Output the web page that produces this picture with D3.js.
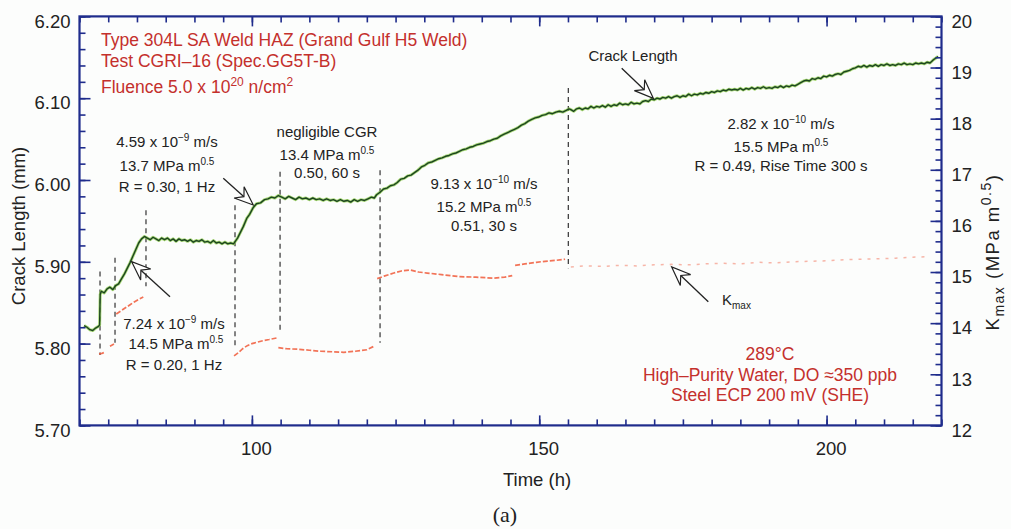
<!DOCTYPE html>
<html>
<head>
<meta charset="utf-8">
<script src="https://cdn.jsdelivr.net/npm/d3@7"></script>
<style>
  body { margin: 0; background: #fcfdfc; }
  svg { display: block; }
</style>
</head>
<body>
<svg id="chart" width="1011" height="529"></svg>
<script>
// ---------- data ----------
// crack length (mm) vs time (h)
const crackLength = [
  [70.8,5.822],[71.3,5.820],[71.8,5.817],[72.3,5.816],[72.8,5.819],[73.3,5.821],[73.5,5.823],
  [73.6,5.860],[73.8,5.864],[74.3,5.862],[74.8,5.867],[75.3,5.869],[75.8,5.866],[76.3,5.871],[76.8,5.873],
  [77.3,5.879],[77.8,5.885],[78.3,5.892],[78.8,5.899],[79.3,5.907],[79.8,5.915],[80.3,5.923],[80.8,5.928],[81.3,5.931],
  [81.8,5.929],[82.3,5.927],[82.8,5.930],[83.3,5.928],[83.8,5.926],[84.3,5.929],[84.8,5.927],[85.3,5.929],
  [85.8,5.926],[86.3,5.928],[86.8,5.925],[87.3,5.928],[87.8,5.926],[88.3,5.927],[88.8,5.925],[89.3,5.927],
  [89.8,5.924],[90.3,5.926],[90.8,5.925],[91.3,5.927],[91.8,5.924],[92.3,5.925],[92.8,5.923],[93.3,5.926],
  [93.8,5.923],[94.3,5.924],[94.8,5.922],[95.3,5.924],[95.8,5.922],[96.3,5.923],[96.8,5.922],
  [97.5,5.929],[98.0,5.936],[98.5,5.943],[99.1,5.953],[99.6,5.958],[100.2,5.966],[100.8,5.971],[101.5,5.972],[102.2,5.976],
  [102.8,5.977],[103.4,5.979],[104.0,5.978],[104.6,5.981],[105.2,5.979],[105.8,5.977],[106.4,5.980],[107.0,5.978],
  [107.6,5.976],[108.2,5.979],[108.8,5.977],[109.4,5.978],[110.0,5.976],[110.6,5.978],[111.2,5.976],[111.8,5.977],
  [112.4,5.975],[113.0,5.977],[113.6,5.975],[114.2,5.976],[114.8,5.974],[115.4,5.976],[116.0,5.974],[116.6,5.975],
  [117.2,5.973],[117.8,5.976],[118.4,5.974],[119.0,5.976],[119.6,5.975],[120.2,5.977],[120.8,5.979],[121.3,5.978],[121.7,5.982],
  [122.3,5.985],[122.9,5.989],[123.5,5.990],[124.1,5.993],[124.7,5.994],[125.3,5.997],[125.9,6.001],[126.5,6.002],
  [127.1,6.005],[127.7,6.006],[128.3,6.009],[128.9,6.012],[129.5,6.016],[130.1,6.018],[130.7,6.021],[131.3,6.022],
  [131.9,6.024],[132.5,6.026],[133.1,6.027],[133.7,6.029],[134.3,6.030],[134.9,6.032],[135.5,6.033],[136.1,6.035],
  [136.7,6.037],[137.3,6.038],[137.9,6.040],[138.5,6.041],[139.1,6.043],[139.7,6.044],[140.3,6.045],[140.9,6.047],
  [141.5,6.048],[142.1,6.050],[142.7,6.051],[143.3,6.054],[143.9,6.056],[144.5,6.058],[145.1,6.060],[145.7,6.062],
  [146.3,6.064],[146.9,6.067],[147.5,6.069],[148.1,6.072],[148.7,6.074],[149.3,6.076],[149.9,6.077],[150.5,6.079],
  [151.1,6.080],[151.7,6.082],[152.3,6.081],[152.9,6.083],[153.5,6.084],[154.1,6.083],[154.7,6.085],[155.2,6.087],
  [155.5,6.086],[156.0,6.084],[156.5,6.087],[157.0,6.088],[157.5,6.086],[158.0,6.088],[158.5,6.087],[159.0,6.090],
  [159.5,6.088],[160.0,6.090],[160.5,6.089],[161.0,6.091],[161.5,6.089],[162.0,6.092],[162.5,6.090],[163.0,6.092],
  [163.5,6.091],[164.0,6.094],[164.5,6.092],[165.0,6.093],[165.5,6.092],[166.0,6.095],[166.5,6.093],[167.0,6.094],
  [167.5,6.093],[168.0,6.096],[168.5,6.097],[169.0,6.096],[169.5,6.099],[170.0,6.098],[170.5,6.100],[171.0,6.099],
  [171.5,6.101],[172.0,6.100],[172.5,6.102],[173.0,6.100],[173.5,6.102],[174.0,6.103],[174.5,6.101],[175.0,6.103],
  [175.5,6.102],[176.0,6.105],[176.5,6.103],[177.0,6.105],[177.5,6.104],[178.0,6.106],[178.5,6.105],[179.0,6.107],
  [179.5,6.106],[180.0,6.108],[180.5,6.107],[181.0,6.109],[181.5,6.108],[182.0,6.110],[182.5,6.109],[183.0,6.111],
  [183.5,6.110],[184.0,6.111],[184.5,6.110],[185.0,6.112],[185.5,6.110],[186.0,6.112],[186.5,6.111],[187.0,6.113],
  [187.5,6.111],[188.0,6.113],[188.5,6.112],[189.0,6.114],[189.5,6.112],[190.0,6.113],[190.5,6.112],[191.0,6.114],
  [191.5,6.113],[192.0,6.115],[192.5,6.113],[193.0,6.115],[193.5,6.114],[194.0,6.116],[194.5,6.115],[195.0,6.117],
  [195.5,6.119],[196.0,6.121],[196.5,6.122],[197.0,6.121],[197.5,6.124],[198.0,6.123],[198.5,6.125],[199.0,6.124],
  [199.5,6.127],[200.0,6.126],[200.5,6.128],[201.0,6.127],[201.5,6.129],[202.0,6.130],[202.5,6.129],[203.0,6.132],
  [203.5,6.133],[204.0,6.134],[204.5,6.136],[205.0,6.137],[205.5,6.139],[206.0,6.138],[206.5,6.140],[207.0,6.138],
  [207.5,6.140],[208.0,6.139],[208.5,6.141],[209.0,6.139],[209.5,6.141],[210.0,6.140],[210.5,6.142],[211.0,6.140],
  [211.5,6.141],[212.0,6.140],[212.5,6.142],[213.0,6.141],[213.5,6.143],[214.0,6.141],[214.5,6.142],[215.0,6.141],
  [215.5,6.143],[216.0,6.142],[216.5,6.143],[217.0,6.142],[217.5,6.144],[218.0,6.143],[218.6,6.147],[219.4,6.151]
];

// Kmax (MPa m^0.5) vs time (h); null marks a break between loading steps
const kmax = [
  [73.4,13.40],[73.9,13.41],[74.4,13.43],null,
  [75.3,13.55],[76.0,13.59],null,
  [76.4,14.18],[77.2,14.24],[78.0,14.30],[78.8,14.36],[79.6,14.42],[80.4,14.47],[81.1,14.51],null,
  [96.9,13.36],[97.6,13.42],[98.4,13.50],[99.2,13.56],[100.0,13.60],[101.0,13.63],[102.0,13.66],[103.0,13.68],[104.3,13.71],null,
  [104.6,13.52],[106,13.50],[108,13.49],[110,13.47],[112,13.45],[114,13.44],[116,13.43],[118,13.45],[120,13.48],[121.3,13.55],null,
  [121.8,14.87],[123,14.92],[124.7,14.98],[126,15.02],[127.6,15.04],[129,15.00],[130.5,14.98],[133,14.95],[136,14.91],
  [139,14.90],[142,14.88],[144,14.90],[145.3,14.93],null,
  [145.8,15.13],[147.5,15.16],[149.5,15.19],[151,15.21],[153,15.23],[154.5,15.25],null,
  [155.5,15.10],[158,15.12],[161,15.11],[164,15.13],[167,15.12],[170,15.14],[173,15.15],[176,15.14],[179,15.16],
  [182,15.17],[185,15.16],[188,15.19],[191,15.18],[194,15.20],[197,15.21],[200,15.22],[203,15.24],[206,15.25],
  [209,15.26],[212,15.27],[215,15.29],[218,15.30]
];

// loading-step changes: time (h), top and bottom of marker (mm)
const stepMarkers = [
  [73.57,5.888,5.786],[76.18,5.905,5.801],[81.57,5.963,5.870],[97.06,5.969,5.798],
  [104.9,6.010,5.813],[122.3,6.012,5.801],[155.06,6.1125,5.892]
];

// axis ticks
const xMajorTicks = [100, 150, 200];
const xMinorTicks = d3.range(70, 221, 5);
const yLeftTicks = [5.70, 5.80, 5.90, 6.00, 6.10, 6.20];
const yLeftMinor = d3.range(5.70, 6.201, 0.02);
const yRightTicks = [12, 13, 14, 15, 16, 17, 18, 19, 20];
const yRightMinor = d3.range(12, 20.01, 0.2);

// ---------- layout ----------
const W = 1011, H = 529;
const m = { left: 79.5, right: 69.5, top: 16.4, bottom: 103.6 };
const FONT = "'Liberation Sans', Arial, Helvetica, sans-serif";
const AXIS = "#1f2c8c";
const INK = "#222";
const RED = "#c4302c";

const x = d3.scaleLinear().domain([70, 220]).range([m.left, W - m.right]);
const yL = d3.scaleLinear().domain([5.70, 6.20]).range([H - m.bottom, m.top]);
const yR = d3.scaleLinear().domain([12, 20]).range([H - m.bottom, m.top]);

const svg = d3.select("#chart").style("font-family", FONT);

svg.append("defs").append("clipPath").attr("id", "plot")
  .append("rect").attr("x", m.left).attr("y", m.top)
  .attr("width", W - m.left - m.right).attr("height", H - m.top - m.bottom);

// ---------- step markers ----------
svg.append("g").selectAll("line").data(stepMarkers).join("line")
  .attr("x1", d => x(d[0])).attr("x2", d => x(d[0]))
  .attr("y1", d => yL(d[1])).attr("y2", d => yL(d[2]))
  .attr("stroke", "#333").attr("stroke-width", 1.2)
  .attr("stroke-dasharray", "5,4");

// ---------- Kmax trace ----------
const kLine = d3.line().defined(d => d !== null).x(d => x(d[0])).y(d => yR(d[1]));
const kGroup = svg.append("g").attr("clip-path", "url(#plot)");
kGroup.append("path").datum(kmax.slice(0, kmax.lastIndexOf(null)))
  .attr("d", kLine).attr("fill", "none")
  .attr("stroke", "#f05a3a").attr("stroke-width", 1.7)
  .attr("stroke-dasharray", "5,2").attr("opacity", 0.85);
kGroup.append("path").datum(kmax.slice(kmax.lastIndexOf(null) + 1))
  .attr("d", kLine).attr("fill", "none")
  .attr("stroke", "#f27a62").attr("stroke-width", 1.5)
  .attr("stroke-dasharray", "3,6").attr("opacity", 0.55);

// ---------- crack length trace ----------
const cLine = d3.line().x(d => x(d[0])).y(d => yL(d[1]));
const cGroup = svg.append("g").attr("clip-path", "url(#plot)");
cGroup.append("path").datum(crackLength).attr("d", cLine).attr("fill", "none")
  .attr("stroke", "#8ccc4a").attr("stroke-width", 3).attr("opacity", 0.75)
  .attr("stroke-linejoin", "round");
cGroup.append("path").datum(crackLength).attr("d", cLine).attr("fill", "none")
  .attr("stroke", "#1c4420").attr("stroke-width", 1.4)
  .attr("stroke-linejoin", "round");

// ---------- axes ----------
function styleAxis(g) {
  g.select(".domain").remove();
  g.selectAll("line").attr("stroke", AXIS).attr("stroke-width", 1.6);
  g.selectAll("text").attr("fill", INK).style("font-size", "18.5px").style("font-family", FONT);
}
const bottomY = H - m.bottom, rightX = W - m.right;

svg.append("g").attr("transform", `translate(0,${bottomY})`)
  .call(d3.axisBottom(x).tickValues(xMinorTicks).tickSize(-6).tickFormat("")).call(styleAxis);
svg.append("g").attr("transform", `translate(0,${bottomY})`)
  .call(d3.axisBottom(x).tickValues(xMajorTicks).tickSizeInner(-10).tickSizeOuter(0).tickPadding(16).tickFormat(d3.format("d")))
  .call(styleAxis).call(g => g.selectAll("text").attr("dx", 4));
svg.append("g").attr("transform", `translate(0,${m.top})`)
  .call(d3.axisTop(x).tickValues(xMinorTicks).tickSize(-6).tickFormat("")).call(styleAxis);
svg.append("g").attr("transform", `translate(0,${m.top})`)
  .call(d3.axisTop(x).tickValues(xMajorTicks).tickSize(-10).tickFormat("")).call(styleAxis);

svg.append("g").attr("transform", `translate(${m.left},0)`)
  .call(d3.axisLeft(yL).tickValues(yLeftMinor).tickSize(-6).tickFormat("")).call(styleAxis);
svg.append("g").attr("transform", `translate(${m.left},0)`)
  .call(d3.axisLeft(yL).tickValues(yLeftTicks).tickSizeInner(-11).tickSizeOuter(0).tickPadding(9).tickFormat(d3.format(".2f")))
  .call(styleAxis).call(g => g.selectAll("text").attr("dy", "0.58em"));

svg.append("g").attr("transform", `translate(${rightX},0)`)
  .call(d3.axisRight(yR).tickValues(yRightMinor).tickSize(-6).tickFormat("")).call(styleAxis);
svg.append("g").attr("transform", `translate(${rightX},0)`)
  .call(d3.axisRight(yR).tickValues(yRightTicks).tickSizeInner(-11).tickSizeOuter(0).tickPadding(10).tickFormat(d3.format("d")))
  .call(styleAxis).call(g => g.selectAll("text").attr("dy", "0.58em"));

// frame
svg.append("rect").attr("x", m.left).attr("y", m.top)
  .attr("width", W - m.left - m.right).attr("height", H - m.top - m.bottom)
  .attr("fill", "none").attr("stroke", AXIS).attr("stroke-width", 2.2);

// ---------- text helpers ----------
// parts: strings, or {sup: "..."} / {sub: "..."}
function richText(parent, px, py, parts, opts) {
  const size = opts.size || 15;
  const scale = opts.scriptScale || 0.68;
  const t = parent.append("text").attr("x", px).attr("y", py)
    .attr("text-anchor", opts.anchor || "middle")
    .attr("fill", opts.color || INK).style("font-size", size + "px");
  if (opts.spacing) t.style("letter-spacing", opts.spacing + "px");
  if (opts.rotate) t.attr("transform", `rotate(${opts.rotate},${px},${py})`);
  let shift = 0;
  parts.forEach(p => {
    const s = t.append("tspan");
    let target = 0, txt = p, fs = size;
    if (typeof p === "object") {
      if (p.sup !== undefined) { target = -0.42 * size; txt = p.sup; }
      else { target = 0.28 * size; txt = p.sub; }
      fs = Math.round(size * scale);
    }
    s.attr("dy", target - shift).style("font-size", fs + "px").text(txt);
    shift = target;
  });
  return t;
}

// axis titles
richText(svg, 25, 226, ["Crack Length (mm)"], { size: 18.5, rotate: -90 });
richText(svg, 999, 252, ["K", { sub: "max" }, " (MPa m", { sup: "0.5" }, ")"],
  { size: 18.5, rotate: -90, scriptScale: 0.78, spacing: 1.5 });
richText(svg, 537, 486, ["Time (h)"], { size: 18.5 });
svg.append("text").attr("x", 505).attr("y", 522).attr("text-anchor", "middle")
  .style("font-family", "'Liberation Serif', 'Times New Roman', serif").style("font-size", "22px")
  .attr("fill", INK).text("(a)");

// specimen and environment notes
richText(svg, 101, 46, ["Type 304L SA Weld HAZ (Grand Gulf H5 Weld)"], { size: 17.5, anchor: "start", color: RED });
richText(svg, 101, 67, ["Test CGRI\u201316 (Spec.GG5T-B)"], { size: 17.5, anchor: "start", color: RED });
richText(svg, 101, 93, ["Fluence 5.0 x 10", { sup: "20" }, " n/cm", { sup: "2" }], { size: 17.5, anchor: "start", color: RED });

richText(svg, 770, 360, ["289\u00B0C"], { size: 17.5, color: RED });
richText(svg, 770, 381, ["High\u2013Purity Water, DO \u2248350 ppb"], { size: 17.5, color: RED });
richText(svg, 770, 401, ["Steel ECP 200 mV (SHE)"], { size: 17.5, color: RED });

// loading-step notes
const notes = [
  [167, 147, ["4.59 x 10", { sup: "\u22129" }, " m/s"]],
  [167, 171, ["13.7 MPa m", { sup: "0.5" }]],
  [167, 192, ["R = 0.30, 1 Hz"]],
  [327, 137, ["negligible CGR"]],
  [327, 160, ["13.4 MPa m", { sup: "0.5" }]],
  [327, 178, ["0.50, 60 s"]],
  [484, 189, ["9.13 x 10", { sup: "\u221210" }, " m/s"]],
  [484, 212, ["15.2 MPa m", { sup: "0.5" }]],
  [484, 231, ["0.51, 30 s"]],
  [781, 129, ["2.82 x 10", { sup: "\u221210" }, " m/s"]],
  [781, 152, ["15.5 MPa m", { sup: "0.5" }]],
  [781, 171, ["R = 0.49, Rise Time 300 s"]],
  [174, 329, ["7.24 x 10", { sup: "\u22129" }, " m/s"]],
  [176, 349, ["14.5 MPa m", { sup: "0.5" }]],
  [174, 370, ["R = 0.20, 1 Hz"]],
  [633, 61, ["Crack Length"]]
];
notes.forEach(n => richText(svg, n[0], n[1], n[2], { size: 15 }));
richText(svg, 722, 305, ["K", { sub: "max" }], { size: 15, anchor: "start" });

// ---------- arrows (tail -> tip, in data units) ----------
const arrows = [
  { from: [95.02, 6.0021], to: [100.24, 5.9694], y: yL },
  { from: [85.75, 5.8573], to: [79.08, 5.9001], y: yL },
  { from: [164.35, 6.1366], to: [169.85, 6.0999], y: yL },
  { from: [179.42, 14.42], to: [173.05, 15.10], y: yR }
];
const aG = svg.append("g");
arrows.forEach(a => {
  const x1 = x(a.from[0]), y1 = a.y(a.from[1]), x2 = x(a.to[0]), y2 = a.y(a.to[1]);
  const ang = Math.atan2(y2 - y1, x2 - x1);
  const L = 19, w = 7.5, notch = 12.5;
  const c = Math.cos(ang), s = Math.sin(ang);
  const pt = (u, v) => [x2 + u * c - v * s, y2 + u * s + v * c];
  const nb = pt(-notch, 0);
  aG.append("line").attr("x1", x1).attr("y1", y1).attr("x2", nb[0]).attr("y2", nb[1])
    .attr("stroke", "#222").attr("stroke-width", 1.3);
  aG.append("polygon")
    .attr("points", [pt(0, 0), pt(-L, -w), pt(-notch, 0), pt(-L, w)].map(p => p.join(",")).join(" "))
    .attr("fill", "#fff").attr("stroke", "#222").attr("stroke-width", 1.2).attr("stroke-linejoin", "miter");
});
</script>
</body>
</html>
